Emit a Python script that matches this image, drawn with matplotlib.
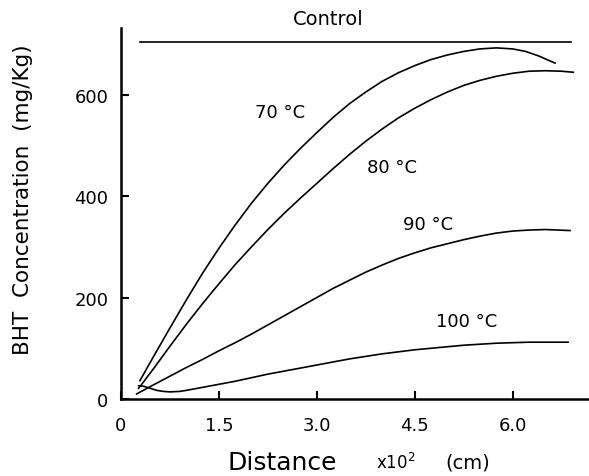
import matplotlib
matplotlib.use("Agg")
import matplotlib.pyplot as plt

# Data
control_x = [0.29, 6.90]
control_y = [703, 703]

x70 = [0.29, 0.5, 0.75, 1.0, 1.25, 1.5, 1.75, 2.0, 2.25, 2.5, 2.75, 3.0, 3.25, 3.5,
       3.75, 4.0, 4.25, 4.5, 4.75, 5.0, 5.25, 5.5, 5.75, 6.0, 6.2, 6.4, 6.65]
y70 = [36, 84, 140, 195, 248, 297, 343, 386, 425, 461, 494, 525, 555, 582,
       605, 626, 643, 657, 669, 678, 685, 690, 692, 690, 685, 676, 662]

x80 = [0.27, 0.5, 0.75, 1.0, 1.25, 1.5, 1.75, 2.0, 2.25, 2.5, 2.75, 3.0, 3.25, 3.5,
       3.75, 4.0, 4.25, 4.5, 4.75, 5.0, 5.25, 5.5, 5.75, 6.0, 6.25, 6.5, 6.75, 6.93]
y80 = [21, 60, 104, 147, 188, 227, 265, 300, 334, 366, 396, 425, 454, 482,
       508, 532, 554, 573, 590, 605, 618, 628, 636, 642, 646, 647, 646, 644]

x90 = [0.24, 0.5, 0.75, 1.0, 1.25, 1.5, 1.75, 2.0, 2.25, 2.5, 2.75, 3.0, 3.25, 3.5,
       3.75, 4.0, 4.25, 4.5, 4.75, 5.0, 5.25, 5.5, 5.75, 6.0, 6.25, 6.5, 6.88]
y90 = [10, 28, 45, 62, 78, 95, 111, 128, 146, 164, 182, 200, 218, 234,
       250, 264, 277, 288, 298, 306, 314, 321, 327, 331, 333, 334, 332]

x100 = [0.27, 0.35, 0.45, 0.55, 0.65, 0.75, 0.9, 1.0, 1.25, 1.5, 1.75, 2.0, 2.25, 2.5,
        2.75, 3.0, 3.25, 3.5, 3.75, 4.0, 4.25, 4.5, 4.75, 5.0, 5.25, 5.5, 5.75, 6.0,
        6.25, 6.5, 6.85]
y100 = [26, 25, 21, 17, 15, 14, 15, 17, 23, 29, 35, 42, 49, 55,
        61, 67, 73, 79, 84, 89, 93, 97, 100, 103, 106, 108, 110, 111,
        112, 112, 112]

xticks = [0, 1.5, 3.0, 4.5, 6.0]
xtick_labels = ["0", "1.5", "3.0", "4.5", "6.0"]
yticks = [0, 200, 400, 600]
ytick_labels = ["0", "200", "400", "600"]

plt.rcParams['font.family'] = ['DejaVu Sans']

fig = plt.figure(figsize=(5.89, 4.77), dpi=100)
ax = fig.add_axes([0.2054, 0.1614, 0.7946, 0.7776])

lw = 1.2
ax.plot(control_x, control_y, color='black', lw=lw)
ax.plot(x70, y70, color='black', lw=lw)
ax.plot(x80, y80, color='black', lw=lw)
ax.plot(x90, y90, color='black', lw=lw)
ax.plot(x100, y100, color='black', lw=lw)

ax.set_xlim(0, 7.17)
ax.set_ylim(0, 731)

for s in ['top', 'right']:
    ax.spines[s].set_visible(False)
for s in ['left', 'bottom']:
    ax.spines[s].set_linewidth(1.8)

ax.set_xticks(xticks)
ax.set_xticklabels(xtick_labels)
ax.set_yticks(yticks)
ax.set_yticklabels(ytick_labels)
ax.tick_params(axis='both', direction='in', length=6, width=1.5, labelsize=13)
ax.tick_params(axis='x', pad=12)
ax.tick_params(axis='y', pad=9)

ax.text(3.18, 749, "Control", fontsize=14, ha='center', va='center', clip_on=False)
ax.text(2.43, 565, "70 °C", fontsize=13, ha='center', va='center')
ax.text(4.15, 457, "80 °C", fontsize=13, ha='center', va='center')
ax.text(4.70, 345, "90 °C", fontsize=13, ha='center', va='center')
ax.text(5.30, 154, "100 °C", fontsize=13, ha='center', va='center')

W, H = 589, 477
fig.text(282 / W, 1 - 463 / H, "Distance", fontsize=18, ha='center', va='center')
fig.text(396 / W, 1 - 463 / H, "x10$^2$", fontsize=12, ha='center', va='center')
fig.text(468 / W, 1 - 463 / H, "(cm)", fontsize=14, ha='center', va='center')
fig.text(23 / W, 1 - 200 / H, "BHT  Concentration  (mg/Kg)", fontsize=15.5,
         rotation=90, ha='center', va='center')

fig.savefig("out.png", dpi=100)
